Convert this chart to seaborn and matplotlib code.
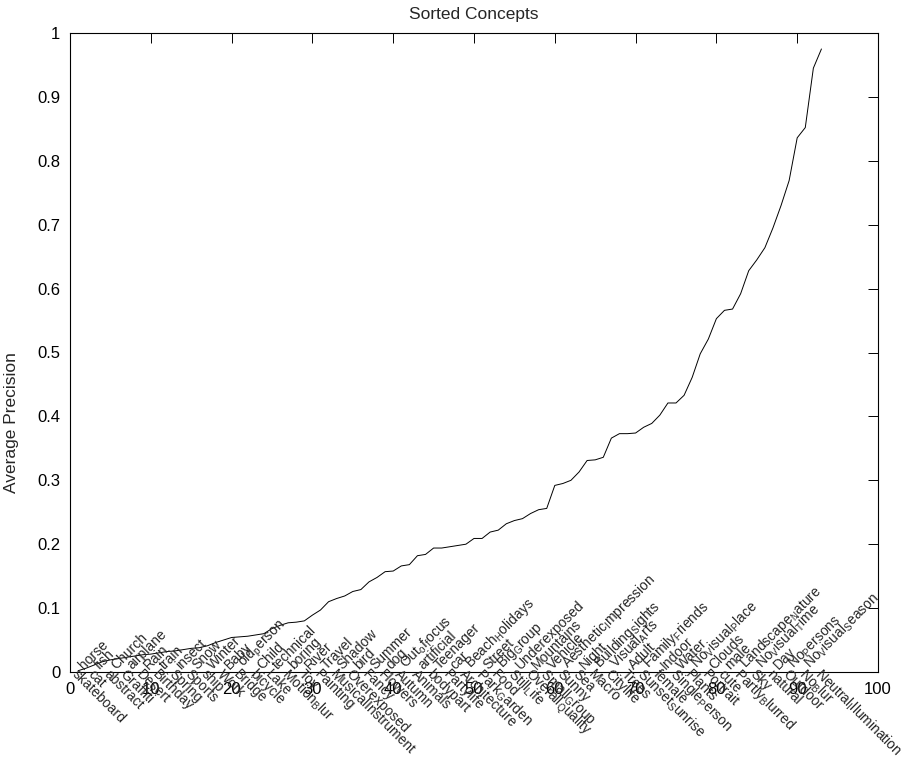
import matplotlib
matplotlib.use("Agg")
import matplotlib.pyplot as plt
import numpy as np
import pandas as pd
import seaborn as sns

# concepts sorted by average precision (rank 1 .. 93)
concepts = [
    "skateboard", "horse", "cat", "fish", "abstract", "Church", "Graffiti",
    "airplane", "Desert", "Rain", "Birthday", "train", "Spring", "insect",
    "Sports", "Snow", "ship", "Winter", "Work", "Baby", "Bridge",
    "old_person", "bicycle", "Child", "Lake", "technical", "Motion_Blur",
    "boring", "Toy", "River", "Painting", "Travel", "MusicalInstrument",
    "Shadow", "Overexposed", "bird", "Fancy", "Summer", "Flowers", "dog",
    "Autumn", "Out_of_focus", "Animals", "artificial", "bodypart",
    "Teenager", "Partylife", "car", "Architecture", "Beach_Holidays",
    "Park_Garden", "Street", "Food", "Big_Group", "Still_Life",
    "Underexposed", "Overall_Quality", "Mountains", "Small_Group",
    "Vehicle", "Sunny", "Aesthetic_Impression", "Sea", "Night", "Macro",
    "Building_Sights", "Citylife", "Visual_Arts", "Trees", "Adult",
    "Sunset_Sunrise", "Family_Friends", "female", "Indoor",
    "Single_Person", "Water", "Plants", "No_Visual_Place", "Portrait",
    "Clouds", "cute", "male", "Partly_Blurred", "Landscape_Nature", "Sky",
    "No_Visual_Time", "natural", "Day", "Outdoor", "No_Persons", "No_Blur",
    "No_Visual_Season", "Neutral_Illumination",
]

avg_precision = [
    0.002, 0.006, 0.011, 0.016, 0.019, 0.021, 0.023, 0.025, 0.027, 0.028,
    0.030, 0.032, 0.033, 0.035, 0.037, 0.038, 0.041, 0.046, 0.050, 0.054,
    0.055, 0.056, 0.058, 0.060, 0.068, 0.073, 0.077, 0.078, 0.080, 0.089,
    0.097, 0.110, 0.115, 0.119, 0.126, 0.129, 0.141, 0.148, 0.157, 0.158,
    0.166, 0.168, 0.182, 0.184, 0.194, 0.194, 0.196, 0.198, 0.200, 0.209,
    0.209, 0.219, 0.222, 0.232, 0.237, 0.240, 0.248, 0.254, 0.256, 0.292,
    0.295, 0.300, 0.313, 0.331, 0.332, 0.336, 0.366, 0.373, 0.373, 0.374,
    0.383, 0.389, 0.402, 0.421, 0.421, 0.433, 0.461, 0.498, 0.521, 0.553,
    0.566, 0.568, 0.592, 0.628, 0.645, 0.664, 0.695, 0.730, 0.769, 0.836,
    0.852, 0.945, 0.975,
]

x_ticks = list(range(0, 101, 10))
y_ticks = [0, 0.1, 0.2, 0.3, 0.4, 0.5, 0.6, 0.7, 0.8, 0.9, 1]
y_tick_labels = ["0", "0.1", "0.2", "0.3", "0.4", "0.5", "0.6", "0.7", "0.8", "0.9", "1"]


def tex_label(name):
    # underscores act like TeX subscripts on the next character
    out = ""
    i = 0
    while i < len(name):
        if name[i] == "_" and i + 1 < len(name):
            out += r"$_{\mathrm{%s}}$" % name[i + 1]
            i += 2
        else:
            out += name[i]
            i += 1
    return out


sns.set_style("white")
plt.rcParams["font.family"] = ["Liberation Sans", "DejaVu Sans"]
plt.rcParams["mathtext.fontset"] = "custom"
plt.rcParams["mathtext.rm"] = "Liberation Sans"

df = pd.DataFrame({"rank": np.arange(1, len(avg_precision) + 1), "ap": avg_precision})

fig = plt.figure(figsize=(9.1, 7.61), dpi=100)
ax = fig.add_axes([70 / 910, 89 / 761, 808 / 910, 639 / 761])
sns.lineplot(data=df, x="rank", y="ap", color="black", linewidth=0.7, ax=ax)

ax.set_xlim(0, 100)
ax.set_ylim(0, 1)
ax.set_xticks(x_ticks)
ax.set_yticks(y_ticks)
ax.set_yticklabels(y_tick_labels)
ax.tick_params(direction="in", top=True, right=True, length=7, width=0.7,
               labelsize=12, colors="black", pad=7)
for s in ax.spines.values():
    s.set_color("black")
    s.set_linewidth(0.8)

ax.set_xlabel("")
ax.set_ylabel("Average Precision", fontsize=12.5)
ax.yaxis.set_label_coords(-0.063, 0.39)
ax.set_title("Sorted Concepts", fontsize=12.5, pad=10)

# odd ranks written below the axis, even ranks above
for r, name in zip(df["rank"], concepts):
    if r % 2 == 1:
        ax.text(r - 0.5, 0, tex_label(name), rotation=-45, rotation_mode="anchor",
                ha="left", va="center", fontsize=10, clip_on=False)
    else:
        ax.text(r, 0, tex_label(name), rotation=45, rotation_mode="anchor",
                ha="left", va="bottom", fontsize=10, clip_on=False)

fig.savefig("out.png", dpi=100, facecolor="white")
